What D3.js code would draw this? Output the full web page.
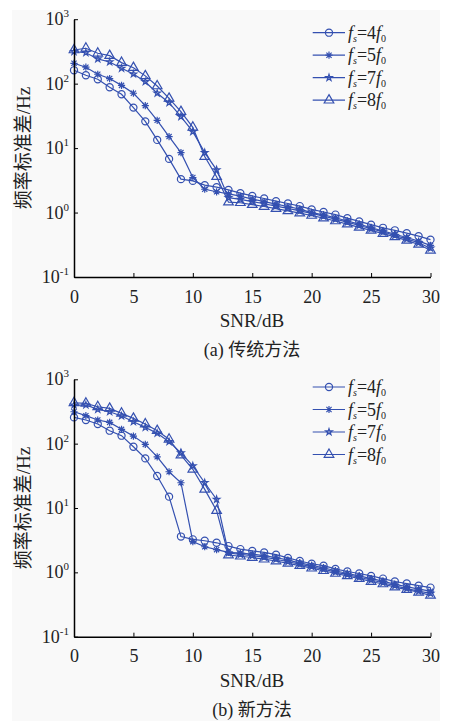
<!DOCTYPE html>
<html>
<head>
<meta charset="utf-8">
<script src="https://cdn.jsdelivr.net/npm/d3@7"></script>
<style>
  body { margin: 0; background: #fff; }
  text { font-family: "Liberation Serif", "Times New Roman", "Noto Sans CJK SC", serif; fill: #222; }
</style>
</head>
<body>
<svg id="chart" width="452" height="721"></svg>
<script>
// SNR values (dB)
var snr = [0,1,2,3,4,5,6,7,8,9,10,11,12,13,14,15,16,17,18,19,20,21,22,23,24,25,26,27,28,29,30];

// (a) traditional method
var topFs4 = [161,135,117,88,68.5,42.5,26,13.4,6.8,3.3,3.1,2.66,2.48,2.25,2.0,1.81,1.65,1.5,1.38,1.26,1.12,1.02,0.93,0.82,0.73,0.65,0.58,0.53,0.48,0.43,0.38];
var topFs5 = [207,180,140,120,94,71,45.6,27,15.1,8.5,3.5,2.3,2.1,1.95,1.8,1.62,1.48,1.35,1.24,1.13,1.0,0.92,0.83,0.74,0.66,0.58,0.52,0.46,0.41,0.36,0.31];
var topFs7 = [313,302,242,217,173,141,107,71,50.7,30.8,18,8.5,4.6,1.7,1.6,1.48,1.37,1.26,1.16,1.06,0.97,0.88,0.79,0.71,0.63,0.56,0.5,0.44,0.39,0.34,0.28];
var topFs8 = [333,354,296,272,212,177,132,92,59,36.8,21,7.4,3.6,1.45,1.42,1.33,1.24,1.15,1.06,0.98,0.9,0.82,0.74,0.66,0.59,0.53,0.47,0.42,0.37,0.32,0.26];

// (b) new method
var botFs4 = [256,233,202,159,133,89.5,59,31.4,15,3.6,3.26,3.1,2.88,2.56,2.3,2.15,2.04,1.88,1.68,1.5,1.36,1.27,1.13,1.03,0.96,0.88,0.8,0.72,0.67,0.62,0.58];
var botFs5 = [313,272,233,214,167,131,97.5,62.5,36.6,24.7,3.0,2.5,2.25,2.05,2.0,1.92,1.82,1.7,1.55,1.4,1.28,1.18,1.06,0.96,0.88,0.8,0.73,0.65,0.6,0.55,0.51];
var botFs7 = [398,398,341,313,269,219,179,145,107,72,45,24.7,13.6,2.0,1.9,1.82,1.72,1.6,1.46,1.34,1.22,1.12,1.01,0.92,0.84,0.76,0.69,0.62,0.56,0.51,0.47];
var botFs8 = [432,423,374,353,296,247,202,159,117,66.5,40,19.5,9.1,1.86,1.78,1.7,1.6,1.5,1.38,1.27,1.16,1.06,0.96,0.88,0.8,0.72,0.66,0.59,0.54,0.49,0.44];

var ratios = ["4", "5", "7", "8"];
var markers = ["circle", "asterisk", "star", "triangle"];
var xTicks = [0, 5, 10, 15, 20, 25, 30];
var yTicks = [0.1, 1, 10, 100, 1000];
var yExps = ["-1", "0", "1", "2", "3"];

var blue = "#3450b0";
var svg = d3.select("#chart");

// faint page tone like the scan
svg.append("rect").attr("x", 12).attr("y", 10).attr("width", 428).attr("height", 711).attr("fill", "#f9f9f9");

function markerPath(type) {
  if (type == "circle") return d3.symbol(d3.symbolCircle, 40)();
  if (type == "star") return d3.symbol(d3.symbolStar, 13)();
  if (type == "triangle") return d3.symbol(d3.symbolTriangle, 40)();
  var s = 3.6, a = 2.6;
  return "M0," + (-s) + "L0," + s + "M" + (-s) + ",0L" + s + ",0" +
         "M" + (-a) + "," + (-a) + "L" + a + "," + a + "M" + (-a) + "," + a + "L" + a + "," + (-a);
}

function drawPanel(top, bottom, series, caption, legendY) {
  var x = d3.scaleLinear().domain([0, 30]).range([74, 430.5]);
  var y = d3.scaleLog().domain([0.1, 1000]).range([bottom, top]);
  var g = svg.append("g");

  var line = d3.line().x(function(d, i) { return x(snr[i]); }).y(function(d) { return y(d); });

  series.forEach(function(vals, k) {
    g.append("path").datum(vals)
      .attr("d", line).attr("fill", "none")
      .attr("stroke", blue).attr("stroke-width", 1.2);
    g.selectAll(".m" + k).data(vals).enter().append("path")
      .attr("transform", function(d, i) { return "translate(" + x(snr[i]) + "," + y(d) + ")"; })
      .attr("d", markerPath(markers[k]))
      .attr("fill", "none")
      .attr("stroke", blue).attr("stroke-width", 1.2);
  });

  // axes
  var xa = g.append("g").attr("transform", "translate(0," + bottom + ")")
    .call(d3.axisBottom(x).tickValues(xTicks).tickSizeInner(-4).tickSizeOuter(0).tickPadding(13));
  xa.selectAll("text").attr("font-size", 18).attr("fill", "#222");
  xa.select(".domain").attr("stroke-width", 1.5);

  var ya = g.append("g").attr("transform", "translate(74,0)")
    .call(d3.axisLeft(y).tickValues(yTicks).tickFormat("").tickSizeInner(-4).tickSizeOuter(0));
  ya.select(".domain").attr("stroke-width", 1.5);

  var lab = g.selectAll(".ylab").data(yTicks).enter().append("text")
    .attr("x", 69).attr("y", function(d) { return y(d) + 6; })
    .attr("text-anchor", "end").attr("font-size", 18);
  lab.append("tspan").text("10");
  lab.append("tspan").attr("dy", -8).attr("font-size", 11).text(function(d, i) { return yExps[i]; });

  // axis titles
  g.append("text").attr("x", 252).attr("y", bottom + 50).attr("text-anchor", "middle")
    .attr("font-size", 19).text("SNR/dB");
  g.append("text").attr("transform", "translate(30," + ((top + bottom) / 2) + ") rotate(-90)")
    .attr("text-anchor", "middle").attr("font-size", 19).text("频率标准差/Hz");
  g.append("text").attr("x", 252).attr("y", bottom + 79).attr("text-anchor", "middle")
    .attr("font-size", 18).text(caption);

  // legend
  ratios.forEach(function(r, k) {
    var ly = legendY + k * 22.5;
    g.append("line").attr("x1", 312.7).attr("x2", 345).attr("y1", ly).attr("y2", ly)
      .attr("stroke", blue).attr("stroke-width", 1.2);
    g.append("path").attr("transform", "translate(329," + ly + ")").attr("d", markerPath(markers[k]))
      .attr("fill", "none").attr("stroke", blue).attr("stroke-width", 1.2);
    var t = g.append("text").attr("x", 348).attr("y", ly + 6).attr("font-size", 18);
    t.append("tspan").attr("font-style", "italic").text("f");
    t.append("tspan").attr("font-style", "italic").attr("font-size", 10).attr("dy", 3).text("s");
    t.append("tspan").attr("dy", -3).text("=" + r);
    t.append("tspan").attr("font-style", "italic").text("f");
    t.append("tspan").attr("font-size", 10).attr("dy", 3).text("0");
  });
}

drawPanel(19.2, 277, [topFs4, topFs5, topFs7, topFs8], "(a) 传统方法", 32.7);
drawPanel(379.3, 636.7, [botFs4, botFs5, botFs7, botFs8], "(b) 新方法", 387);
</script>
</body>
</html>
